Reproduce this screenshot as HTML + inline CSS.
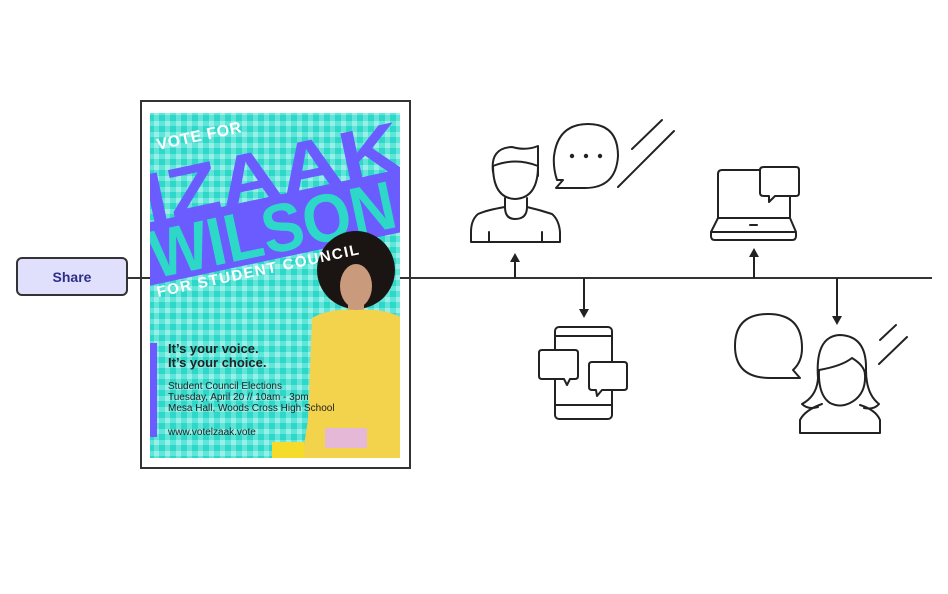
<!DOCTYPE html>
<html><head><meta charset="utf-8"><style>
html,body{margin:0;padding:0;background:#fff;}
svg{display:block}
</style></head><body>
<svg width="948" height="594" viewBox="0 0 948 594" xmlns="http://www.w3.org/2000/svg" font-family="Liberation Sans, sans-serif">
<defs>
<pattern id="g" width="11" height="11" patternUnits="userSpaceOnUse">
<rect width="11" height="11" fill="#2ed8c8"/>
<rect x="0" y="0" width="11" height="5" fill="#62e5d9"/>
<rect x="0" y="0" width="5" height="11" fill="#62e5d9"/>
<rect x="0" y="0" width="5" height="5" fill="#98efe7"/>
</pattern>
<clipPath id="pc"><rect x="150" y="113" width="250" height="345"/></clipPath>
</defs>
<!-- share -->
<rect x="17" y="258" width="110" height="37" rx="5" fill="#e0e0fc" stroke="#333" stroke-width="2"/>
<text x="72" y="282" text-anchor="middle" font-size="14" font-weight="bold" fill="#2e2e8a">Share</text>
<!-- poster -->
<rect x="141" y="101" width="269" height="367" fill="#fff" stroke="#333" stroke-width="2"/>
<!-- main line -->
<line x1="127" y1="278" x2="932" y2="278" stroke="#333" stroke-width="2"/>
<g clip-path="url(#pc)">
<rect x="150" y="113" width="250" height="345" fill="url(#g)"/>
<g transform="translate(272,172) rotate(-12)">
<text x="0" y="26" text-anchor="middle" font-size="72" font-weight="bold" fill="#6a5cff" textLength="262" lengthAdjust="spacingAndGlyphs">IZAAK</text>
</g>
<g transform="translate(272,228) rotate(-12)">
<rect x="-170" y="-31" width="340" height="62" fill="#6a5cff"/>
<text x="0" y="25" text-anchor="middle" font-size="68" font-weight="bold" fill="#2ed8c8" textLength="250" lengthAdjust="spacingAndGlyphs">WILSON</text>
</g>
<text transform="translate(158,150) rotate(-12)" font-size="16" font-weight="bold" fill="#fff" textLength="86" lengthAdjust="spacing">VOTE FOR</text>
<!-- person -->
<circle cx="356" cy="270" r="39" fill="#1a1412"/>
<ellipse cx="356" cy="286" rx="16" ry="22" fill="#c99a7c"/>
<rect x="348" y="300" width="16" height="16" fill="#c99a7c"/>
<path d="M312 318 Q330 308 356 310 Q385 308 402 318 L406 458 L302 458 L308 420 Z" fill="#f3d24c"/>
<rect x="325" y="428" width="42" height="20" fill="#e6b8d8"/>
<rect x="272" y="442" width="32" height="16" fill="#f5dc2a"/>
<text transform="translate(158,297) rotate(-12)" font-size="15" font-weight="bold" fill="#fff" textLength="206" lengthAdjust="spacing">FOR STUDENT COUNCIL</text>
<rect x="150" y="343" width="7" height="94" fill="#6a5cff"/>
<text x="168" y="353" font-size="13" font-weight="bold" fill="#222">It’s your voice.</text>
<text x="168" y="367" font-size="13" font-weight="bold" fill="#222">It’s your choice.</text>
<text x="168" y="389" font-size="10" fill="#222">Student Council Elections</text>
<text x="168" y="400" font-size="10" fill="#222">Tuesday, April 20 // 10am - 3pm</text>
<text x="168" y="411" font-size="10" fill="#222">Mesa Hall, Woods Cross High School</text>
<text x="168" y="435" font-size="10" fill="#222">www.votelzaak.vote</text>
</g>
<!-- icons -->
<g fill="none" stroke="#222" stroke-width="2" stroke-linecap="round" stroke-linejoin="round">
<!-- man -->
<path d="M493 172 Q490 148 512 147 Q526 151 538 146 L538 176"/>
<path d="M493 166 Q493 198 515 199 Q538 198 538 166"/>
<path d="M493 166 Q515 157 538 166"/>
<path d="M505 198 L505 207 Q505 219 515 219 Q527 219 527 207 L527 198"/>
<path d="M505 207 Q487 210 478 214 Q471 220 471 232 L471 242 L560 242 L560 232 Q559 220 552 214 Q540 210 527 207"/>
<line x1="489" y1="232" x2="489" y2="242"/><line x1="542" y1="232" x2="542" y2="242"/>
<path d="M557 180 Q553 168 554 156 Q558 124 588 124 Q618 124 618 156 Q616 188 585 188 L556 188 L563 180 Z"/>
<line x1="632" y1="149" x2="662" y2="120"/><line x1="618" y1="187" x2="674" y2="131"/>
<!-- laptop -->
<path d="M722 170 Q718 170 718 174 L718 218 L790 218 L790 174 Q790 170 786 170 Z"/>
<path d="M718 218 L711 232 L711 236 Q711 240 715 240 L792 240 Q796 240 796 236 L796 232 L790 218"/>
<line x1="711" y1="232" x2="796" y2="232"/><line x1="750" y1="225" x2="757" y2="225"/>
<path d="M764 167 L796 167 Q799 167 799 170 L799 193 Q799 196 796 196 L775 196 L769 202 L769 196 L764 196 Q760 196 760 193 L760 170 Q760 167 764 167 Z" fill="#fff"/>
<!-- phone -->
<rect x="555" y="327" width="57" height="92" rx="4"/>
<line x1="555" y1="336" x2="612" y2="336"/><line x1="555" y1="405" x2="612" y2="405"/>
<path d="M542 350 L575 350 Q578 350 578 353 L578 376 Q578 379 575 379 L570 379 L567 385 L564 379 L542 379 Q539 379 539 376 L539 353 Q539 350 542 350 Z" fill="#fff"/>
<path d="M592 362 L624 362 Q627 362 627 365 L627 387 Q627 390 624 390 L602 390 L597 396 L596 390 L592 390 Q589 390 589 387 L589 365 Q589 362 592 362 Z" fill="#fff"/>
<!-- woman -->
<path d="M768 314 Q802 314 802 348 Q802 362 793 370 L800 378 L770 378 Q735 378 735 346 Q735 314 768 314 Z"/>
<path d="M818 378 Q815 336 840 335 Q867 336 866 370 Q866 394 879 404 Q874 410 864 408"/>
<path d="M818 378 Q817 396 802 404 Q808 410 818 407"/>
<path d="M819 370 Q842 366 852 358 Q865 366 865 375 Q866 395 850 403 Q840 408 830 403 Q818 395 819 370"/>
<path d="M822 404 Q805 410 800 420 L800 433 L880 433 L880 420 Q876 410 860 405"/>
<line x1="880" y1="340" x2="896" y2="325"/><line x1="879" y1="364" x2="907" y2="337"/>
</g>
<g fill="#222"><circle cx="572" cy="156" r="2.2"/><circle cx="586" cy="156" r="2.2"/><circle cx="600" cy="156" r="2.2"/></g>
<!-- arrows -->
<g stroke="#222" stroke-width="2" fill="#222">
<line x1="515" y1="278" x2="515" y2="260"/><path d="M510 262 L515 253 L520 262 Z" stroke="none"/>
<line x1="754" y1="278" x2="754" y2="255"/><path d="M749 257 L754 248 L759 257 Z" stroke="none"/>
<line x1="584" y1="278" x2="584" y2="311"/><path d="M579 309 L584 318 L589 309 Z" stroke="none"/>
<line x1="837" y1="278" x2="837" y2="318"/><path d="M832 316 L837 325 L842 316 Z" stroke="none"/>
</g>
</svg>
</body></html>
